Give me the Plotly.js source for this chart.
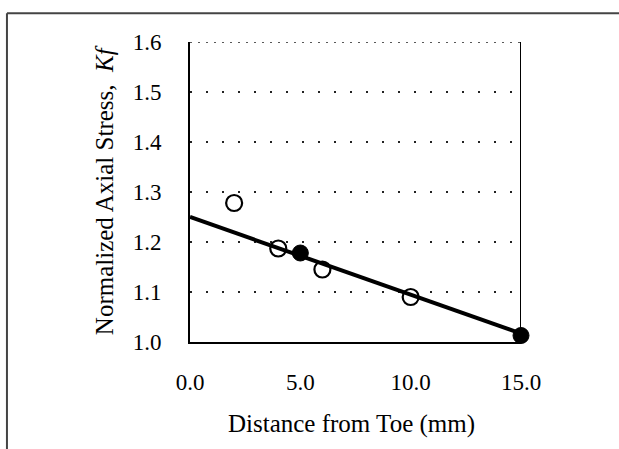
<!DOCTYPE html>
<html>
<head>
<meta charset="utf-8">
<script src="https://cdn.plot.ly/plotly-3.0.1.min.js"></script>
<style>html,body{margin:0;padding:0;background:#fff;}#chart{width:619px;height:449px;}</style>
</head>
<body>
<div id="chart"></div>
<script>
// Open circles (measured points)
var openX = [2, 4, 6, 10];
var openY = [1.278, 1.187, 1.145, 1.09];
// Filled circles
var filledX = [5, 15];
var filledY = [1.178, 1.013];
// Linear fit line
var fitX = [0, 15];
var fitY = [1.25, 1.017];
// Tick labels
var xTickVals = [0, 5, 10, 15];
var xTickText = ['0.0', '5.0', '10.0', '15.0'];
var yTickVals = [1.0, 1.1, 1.2, 1.3, 1.4, 1.5, 1.6];
var yTickText = ['1.0', '1.1', '1.2', '1.3', '1.4', '1.5', '1.6'];

var serif = 'Liberation Serif, Times New Roman, serif';

var traces = [
  {x: openX, y: openY, type: 'scatter', mode: 'markers',
   marker: {symbol: 'circle', size: 16, color: '#ffffff', line: {color: '#000', width: 2.2}},
   hoverinfo: 'skip', cliponaxis: false},
  {x: fitX, y: fitY, type: 'scatter', mode: 'lines',
   line: {color: '#000', width: 4}, hoverinfo: 'skip', cliponaxis: false},
  {x: filledX, y: filledY, type: 'scatter', mode: 'markers',
   marker: {symbol: 'circle', size: 16, color: '#000', line: {color: '#000', width: 1}},
   hoverinfo: 'skip', cliponaxis: false}
];

var layout = {
  width: 619, height: 449,
  margin: {l: 190, r: 98, t: 42, b: 107, pad: 0},
  paper_bgcolor: '#fff', plot_bgcolor: '#fff',
  showlegend: false,
  font: {family: serif, color: '#000'},
  xaxis: {
    range: [0, 15], tickvals: xTickVals, ticktext: xTickText,
    showgrid: false, zeroline: false, showline: true, linecolor: '#000', linewidth: 2,
    ticks: '', ticklabelstandoff: 18,
    tickfont: {family: serif, size: 23, color: '#000'}, fixedrange: true
  },
  yaxis: {
    range: [1.0, 1.6], tickvals: yTickVals, ticktext: yTickText,
    showgrid: true, gridcolor: '#222', gridwidth: 1.5, griddash: '2px,14px',
    zeroline: false, showline: true, linecolor: '#000', linewidth: 2,
    ticks: '', ticklabelstandoff: 22,
    tickfont: {family: serif, size: 23, color: '#000'}, fixedrange: true
  },
  shapes: [
    {type: 'line', xref: 'x', yref: 'y', x0: 15, x1: 15, y0: 1.0, y1: 1.6,
     line: {color: '#000', width: 2}},
    {type: 'line', xref: 'x', yref: 'y', x0: 0, x1: 15, y0: 1.6, y1: 1.6,
     line: {color: '#222', width: 1.5, dash: '2px,6px'}},
    {type: 'line', xref: 'paper', yref: 'paper', x0: -0.553, x1: 1.3, y0: 1.096, y1: 1.096,
     line: {color: '#444', width: 2}},
    {type: 'line', xref: 'paper', yref: 'paper', x0: -0.553, x1: -0.553, y0: 1.096, y1: -0.4,
     line: {color: '#444', width: 2}}
  ],
  annotations: [
    {text: 'Distance from Toe (mm)', xref: 'paper', yref: 'paper', x: 0.488, y: -0.272,
     xanchor: 'center', yanchor: 'middle', showarrow: false,
     font: {family: serif, size: 25, color: '#000'}},
    {text: 'Normalized Axial Stress,  <i>Kf</i>', xref: 'paper', yref: 'paper', x: -0.26, y: 0.506,
     xanchor: 'center', yanchor: 'middle', showarrow: false, textangle: -90,
     font: {family: serif, size: 25, color: '#000'}}
  ]
};

Plotly.newPlot('chart', traces, layout, {displayModeBar: false, staticPlot: true});
</script>
</body>
</html>
